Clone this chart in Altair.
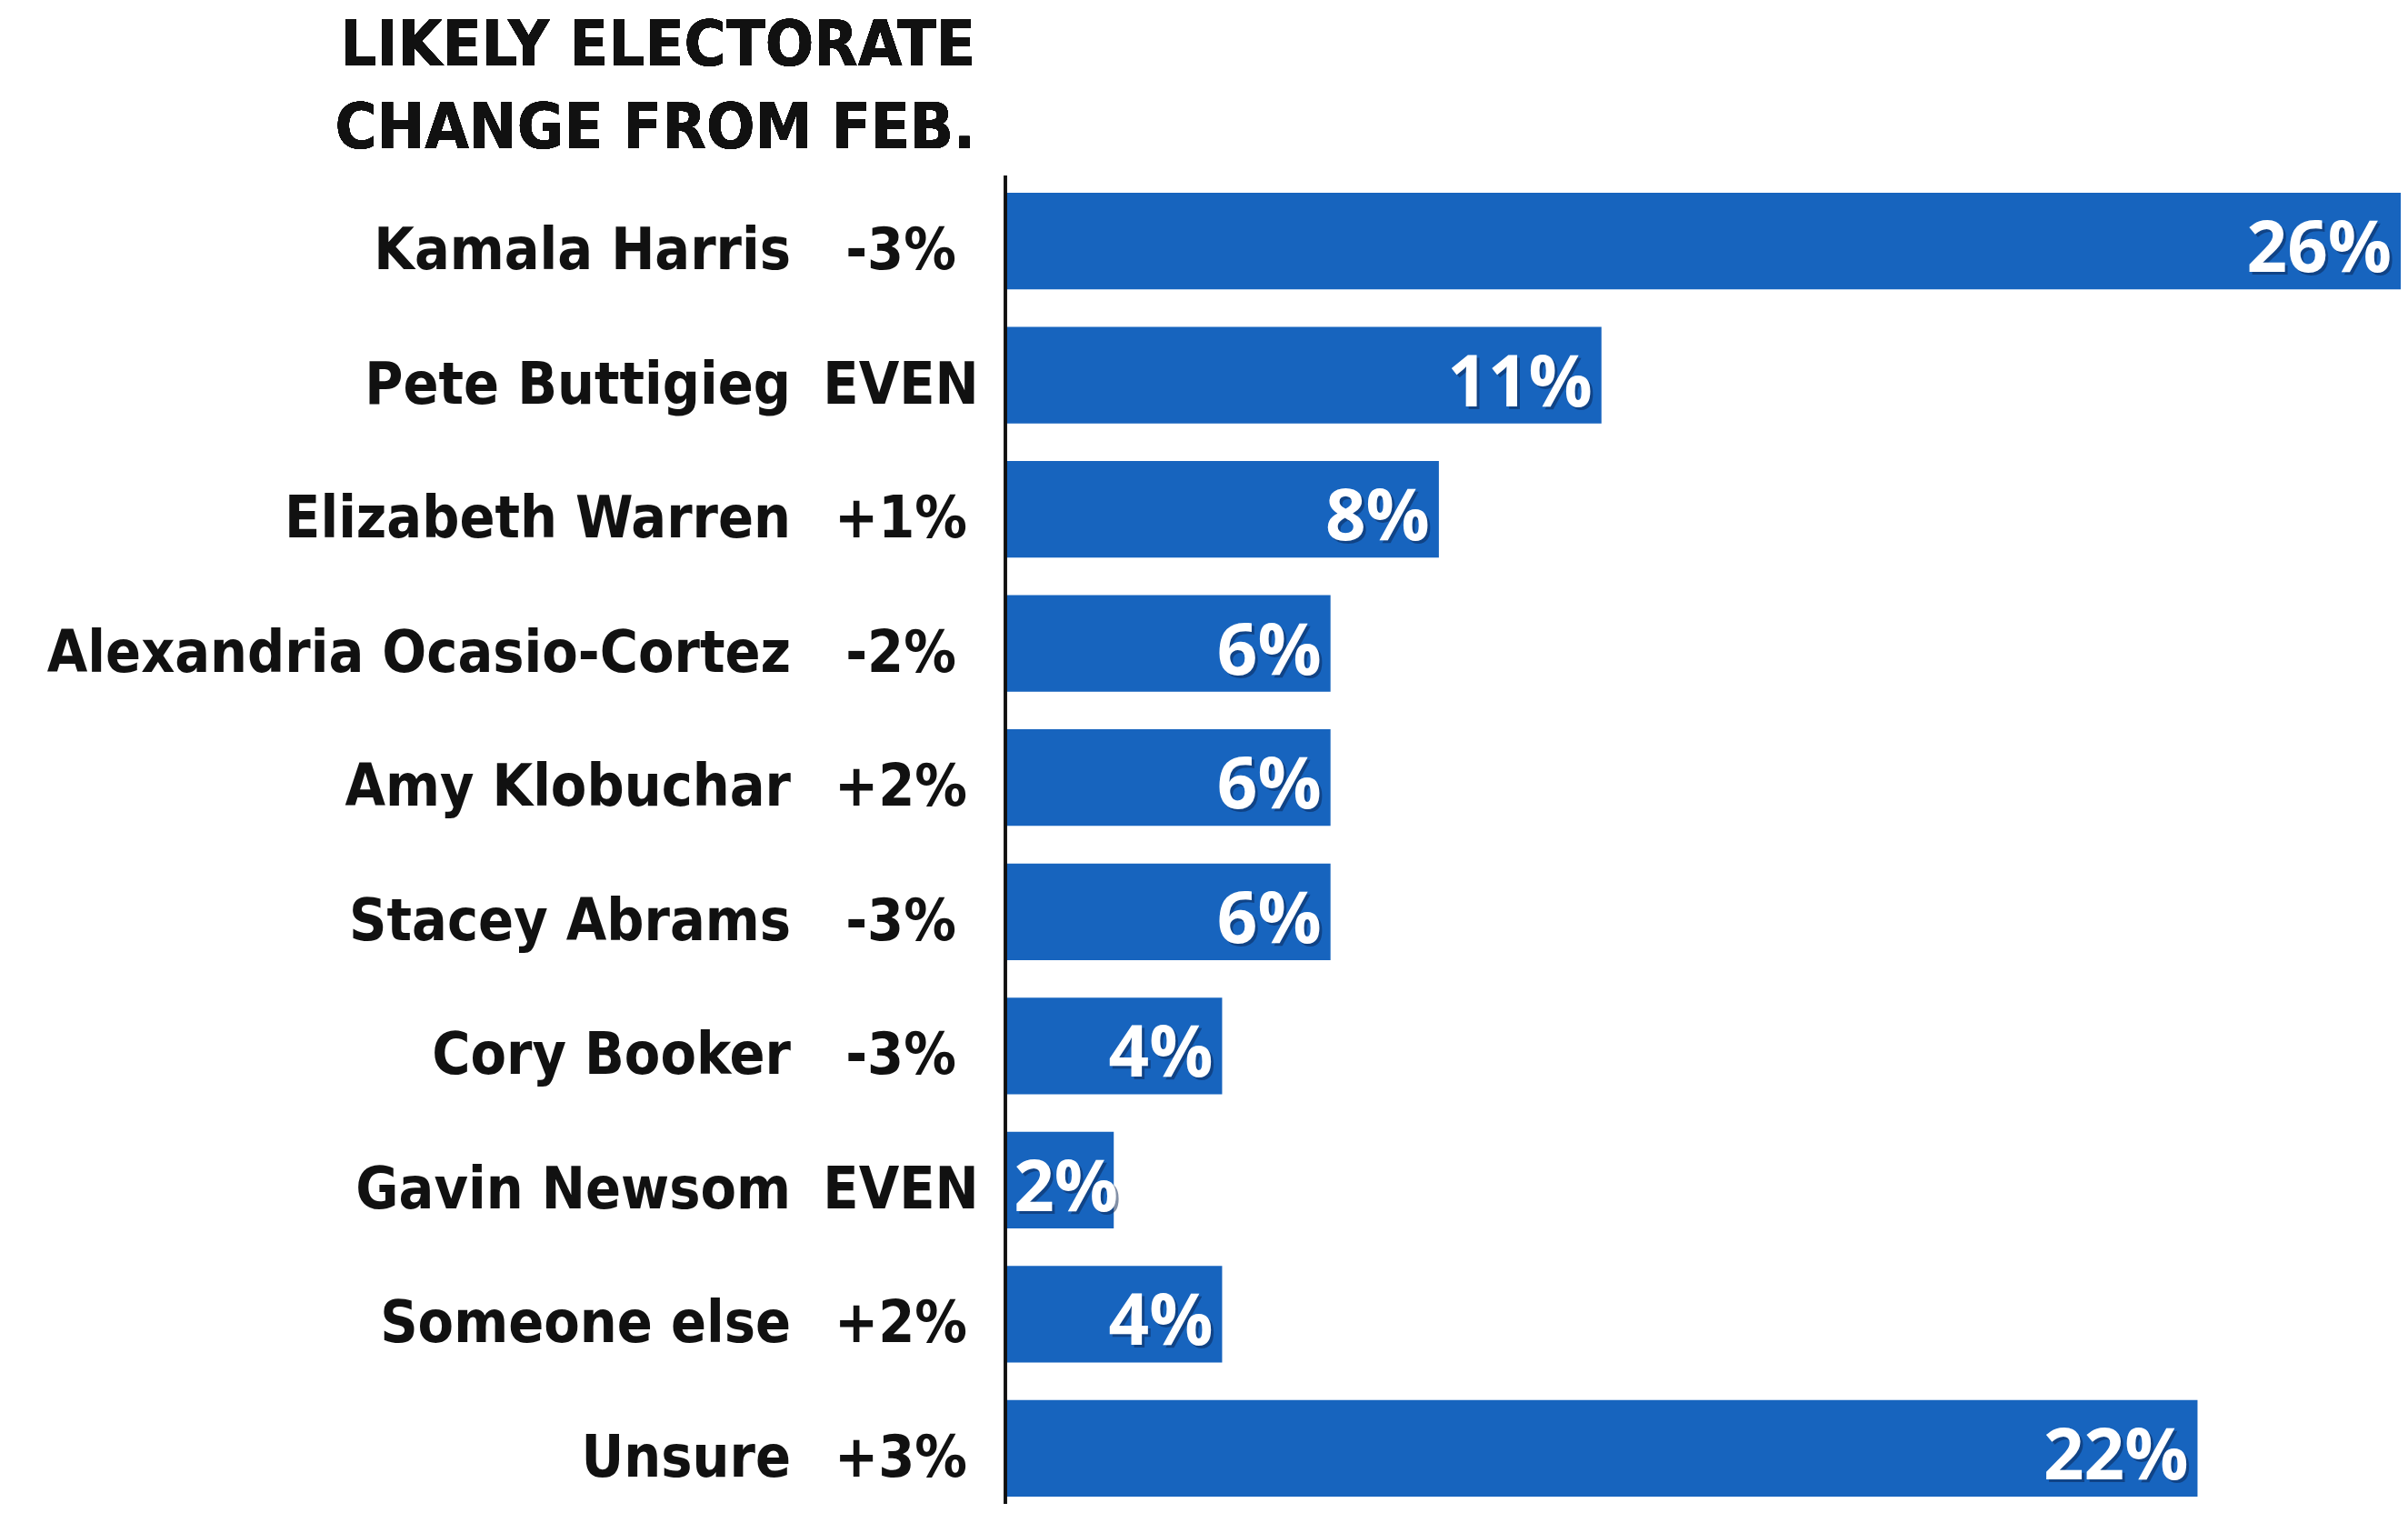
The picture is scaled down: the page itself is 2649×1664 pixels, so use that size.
import altair as alt
import pandas as pd

names = ["Kamala Harris", "Pete Buttigieg", "Elizabeth Warren", "Alexandria Ocasio-Cortez",
         "Amy Klobuchar", "Stacey Abrams", "Cory Booker", "Gavin Newsom", "Someone else", "Unsure"]
values = [26, 11, 8, 6, 6, 6, 4, 2, 4, 22]
changes = ["-3%", "EVEN", "+1%", "-2%", "+2%", "-3%", "-3%", "EVEN", "+2%", "+3%"]
title_lines = ["LIKELY ELECTORATE", "CHANGE FROM FEB."]

df = pd.DataFrame({"name": names, "value": values, "change": changes})
df["label"] = [f"{v}%" for v in values]

W, H = 1535, 1434
XMAX = 25.75
COND = "DejaVu Sans Condensed, Liberation Sans Narrow, Roboto Condensed, Roboto"
NUM = "Open Sans"
BLUE = "#1764be"

y = alt.Y("name:N", sort=names, axis=None,
          scale=alt.Scale(paddingInner=0.28, paddingOuter=0))
xs = alt.Scale(domain=[0, XMAX], nice=False, zero=True)

base = alt.Chart(df)

bars = base.mark_bar(color=BLUE, clip=True).encode(
    x=alt.X("value:Q", scale=xs, axis=None), y=y)

lab = base.transform_calculate(lx=f"clamp(datum.value, 2.25, {XMAX})")

shadow = lab.mark_text(align="right", baseline="alphabetic", dx=-7, dy=37,
                       font=NUM, fontWeight="bold", fontSize=78,
                       color="#0a2450", opacity=0.5).encode(
    x=alt.X("lx:Q", scale=xs), y=y, text="label:N")

vals = lab.mark_text(align="right", baseline="alphabetic", dx=-10, dy=34,
                     font=NUM, fontWeight="bold", fontSize=78,
                     color="white").encode(
    x=alt.X("lx:Q", scale=xs), y=y, text="label:N")

name_txt = base.mark_text(align="right", baseline="alphabetic", dy=31,
                          font=COND, fontWeight="bold", fontSize=64,
                          color="#111111").encode(
    x=alt.value(-236), y=y, text="name:N")

chg_txt = base.mark_text(align="center", baseline="alphabetic", dy=31,
                         font=COND, fontWeight="bold", fontSize=64,
                         color="#111111").encode(
    x=alt.value(-115), y=y, text="change:N")

title = alt.Chart(df).mark_text(text=title_lines, align="right", baseline="alphabetic",
                                lineHeight=91, font=COND, fontWeight="bold",
                                fontSize=70, color="#111111").encode(
    x=alt.value(-33), y=alt.value(-140))

axis_line = alt.Chart(df).mark_rule(color="#111111", strokeWidth=2.5).encode(
    x=alt.value(0), y=alt.value(-19), y2=alt.value(H + 8))

chart = alt.layer(bars, axis_line, shadow, vals, name_txt, chg_txt, title).properties(
    width=W, height=H,
    padding={"left": 1098, "top": 204, "right": 0, "bottom": 8},
    autosize=alt.AutoSizeParams(type="none"),
    background="white",
).configure_view(stroke=None)

chart.save("out.html", embed_options={"renderer": "svg", "actions": False})
